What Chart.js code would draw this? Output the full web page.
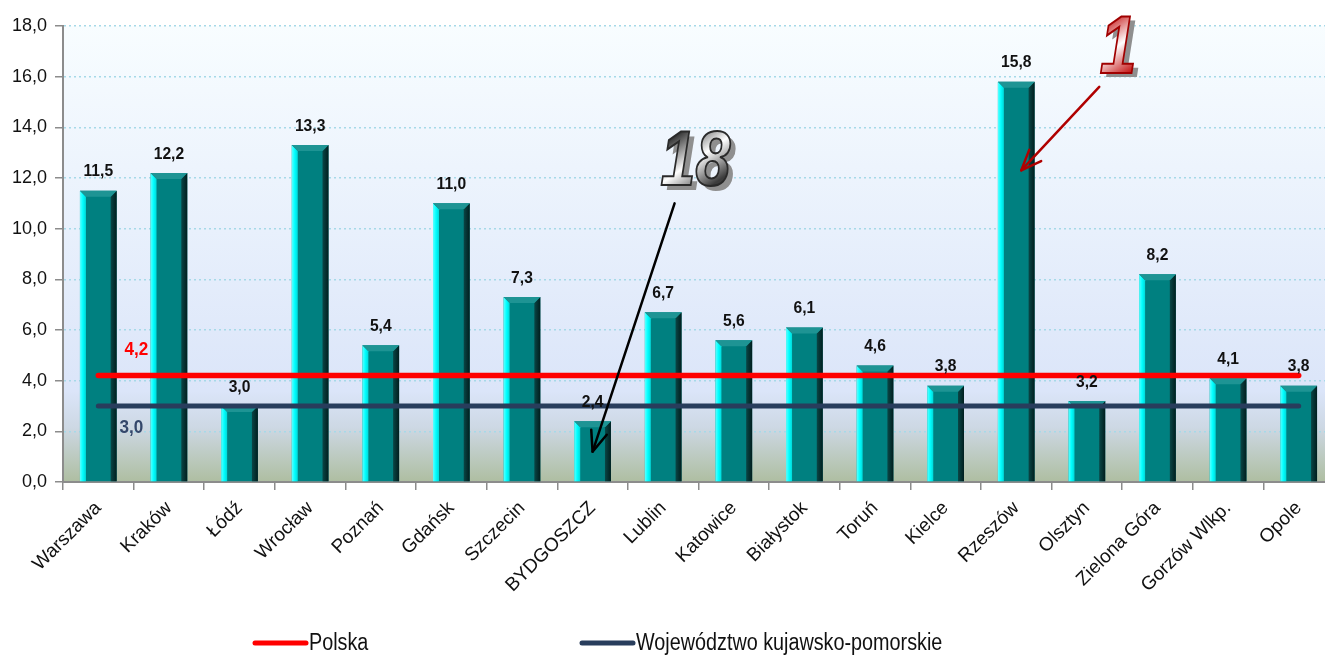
<!DOCTYPE html>
<html><head><meta charset="utf-8">
<script src="https://cdn.jsdelivr.net/npm/chart.js@4"></script>
<style>
html,body{margin:0;padding:0;background:#fff;overflow:hidden;width:1325px;height:655px}
#wrap{position:absolute;left:0;top:0;width:1334px;height:655px}
</style></head>
<body><div id="wrap"><canvas id="c" width="1334" height="655"></canvas></div>
<script>
const categories = ['Warszawa','Kraków','Łódź','Wrocław','Poznań','Gdańsk','Szczecin','BYDGOSZCZ','Lublin','Katowice','Białystok','Toruń','Kielce','Rzeszów','Olsztyn','Zielona Góra','Gorzów Wlkp.','Opole'];
const cityValues = [11.5,12.2,3.0,13.3,5.4,11.0,7.3,2.4,6.7,5.6,6.1,4.6,3.8,15.8,3.2,8.2,4.1,3.8];
const polskaValue = 4.2;
const kujawskoValue = 3.0;
const polskaSeries = categories.map(() => polskaValue);
const kujawskoSeries = categories.map(() => kujawskoValue);
const yTickValues = [0,2,4,6,8,10,12,14,16,18];
const seriesNames = ['Polska','Województwo kujawsko-pomorskie'];

const FONT = "'Liberation Sans', Arial, sans-serif";
const fmt = v => v.toFixed(1).replace('.', ',');

// draw text horizontally condensed (to mimic a narrow face)
function narrowText(ctx, text, x, y, sx) {
  ctx.save();
  ctx.translate(x, y);
  ctx.scale(sx, 1);
  ctx.fillText(text, 0, 0);
  ctx.restore();
}

const bgPlugin = {
  id: 'bg',
  beforeDraw(chart) {
    const {ctx, chartArea: a} = chart;
    const g = ctx.createLinearGradient(0, a.top, 0, a.bottom);
    g.addColorStop(0, '#f8fdff');
    g.addColorStop(0.45, '#e8f0fc');
    g.addColorStop(0.80, '#dbe5f9');
    g.addColorStop(0.88, '#cdd8e4');
    g.addColorStop(1, '#aebea1');
    ctx.save();
    ctx.fillStyle = g;
    ctx.fillRect(a.left, a.top, a.right - a.left, a.bottom - a.top);
    ctx.restore();
  }
};

const bevelPlugin = {
  id: 'bevel',
  afterDatasetDraw(chart, args) {
    if (args.index !== 0) return;
    const ctx = chart.ctx;
    args.meta.data.forEach(el => {
      const p = el.getProps(['x','y','base','width'], true);
      const l = p.x - p.width / 2, r = p.x + p.width / 2, t = p.y, b = p.base;
      const bv = 6;
      ctx.save();
      let g = ctx.createLinearGradient(l, 0, l + bv, 0);
      g.addColorStop(0, '#5fffff'); g.addColorStop(0.5, '#00ffff'); g.addColorStop(1, '#00d8d8');
      ctx.fillStyle = g;
      ctx.beginPath(); ctx.moveTo(l, t); ctx.lineTo(l + bv, t + bv); ctx.lineTo(l + bv, b); ctx.lineTo(l, b); ctx.closePath(); ctx.fill();
      g = ctx.createLinearGradient(r - bv, 0, r, 0);
      g.addColorStop(0, '#0a4646'); g.addColorStop(1, '#001e1e');
      ctx.fillStyle = g;
      ctx.beginPath(); ctx.moveTo(r, t); ctx.lineTo(r - bv, t + bv); ctx.lineTo(r - bv, b); ctx.lineTo(r, b); ctx.closePath(); ctx.fill();
      ctx.fillStyle = '#1e9494';
      ctx.beginPath(); ctx.moveTo(l, t); ctx.lineTo(r, t); ctx.lineTo(r - bv, t + bv); ctx.lineTo(l + bv, t + bv); ctx.closePath(); ctx.fill();
      ctx.restore();
    });
  }
};

function arrow(ctx, x1, y1, x2, y2, color, w) {
  const ang = Math.atan2(y2 - y1, x2 - x1);
  const hl = 22, ha = 0.38;
  ctx.save();
  ctx.strokeStyle = color; ctx.lineWidth = w; ctx.lineCap = 'round'; ctx.lineJoin = 'round';
  ctx.beginPath(); ctx.moveTo(x1, y1); ctx.lineTo(x2, y2); ctx.stroke();
  ctx.beginPath();
  ctx.moveTo(x2 - hl * Math.cos(ang - ha), y2 - hl * Math.sin(ang - ha));
  ctx.lineTo(x2, y2);
  ctx.lineTo(x2 - hl * Math.cos(ang + ha), y2 - hl * Math.sin(ang + ha));
  ctx.stroke();
  ctx.restore();
}

function fancyText(ctx, text, cx, cy, size, c1, c2, stroke) {
  ctx.save();
  ctx.translate(cx, cy);
  ctx.scale(0.85, 1.05);
  ctx.font = `italic bold ${size}px ${FONT}`;
  ctx.textAlign = 'center'; ctx.textBaseline = 'middle';
  ctx.fillStyle = '#8f8f8f';
  ctx.fillText(text, 6, 4);
  const g = ctx.createLinearGradient(-size * 0.3, -size * 0.36, size * 0.1, size * 0.36);
  g.addColorStop(0, c1); g.addColorStop(0.5, c2); g.addColorStop(1, c1);
  ctx.fillStyle = g;
  ctx.fillText(text, 0, 0);
  ctx.lineWidth = 2; ctx.strokeStyle = stroke;
  ctx.strokeText(text, 0, 0);
  ctx.restore();
}

const labelsPlugin = {
  id: 'labels',
  afterDatasetsDraw(chart) {
    const ctx = chart.ctx;
    const xs = chart.scales.x, ys = chart.scales.y;
    const meta = chart.getDatasetMeta(0);
    ctx.save();
    ctx.font = `bold 17px ${FONT}`;
    ctx.fillStyle = '#111';
    ctx.textAlign = 'center'; ctx.textBaseline = 'middle';
    meta.data.forEach((el, i) => {
      narrowText(ctx, fmt(chart.data.datasets[0].data[i]), el.x, el.y - 19, 0.92);
    });
    const p0 = chart.getDatasetMeta(1).data[0];
    const k0 = chart.getDatasetMeta(2).data[0];
    ctx.font = `bold 19px ${FONT}`;
    ctx.fillStyle = '#ff0000';
    narrowText(ctx, fmt(polskaValue), p0.x + 38, p0.y - 26, 0.9);
    ctx.fillStyle = '#34476b';
    narrowText(ctx, fmt(kujawskoValue), k0.x + 33, k0.y + 22, 0.9);
    ctx.restore();

    const bx = xs.getPixelForValue(7);
    arrow(ctx, bx + 82, ys.getPixelForValue(11.0), bx, ys.getPixelForValue(1.2), '#000', 2.5);
    fancyText(ctx, '18', bx + 103, ys.getPixelForValue(12.55), 74, '#3c3c3c', '#ffffff', '#2a2a2a');
    const rx = xs.getPixelForValue(13);
    arrow(ctx, rx + 83, ys.getPixelForValue(15.6), rx + 5, ys.getPixelForValue(12.3), '#b00000', 2.5);
    fancyText(ctx, '1', rx + 102, ys.getPixelForValue(17.05), 78, '#c00000', '#ffffff', '#a00000');
  }
};

const legendPlugin = {
  id: 'customLegend',
  afterDraw(chart) {
    const ctx = chart.ctx;
    const y = 643;
    const starts = [253, 580];
    ctx.save();
    ctx.font = `23px ${FONT}`;
    ctx.textBaseline = 'middle'; ctx.textAlign = 'left';
    [1, 2].forEach((di, k) => {
      const ds = chart.data.datasets[di];
      ctx.strokeStyle = ds.borderColor; ctx.lineWidth = 5; ctx.lineCap = 'round';
      ctx.beginPath(); ctx.moveTo(starts[k] + 2, y); ctx.lineTo(starts[k] + 53, y); ctx.stroke();
      ctx.fillStyle = '#111';
      narrowText(ctx, ds.label, starts[k] + 56, y + 1, 0.86);
    });
    ctx.restore();
  }
};

new Chart(document.getElementById('c'), {
  type: 'bar',
  data: {
    labels: categories,
    datasets: [
      {type: 'bar', label: 'Miasta', data: cityValues, backgroundColor: '#008080', borderWidth: 0,
       barPercentage: 0.52, categoryPercentage: 1, order: 3},
      {type: 'line', label: seriesNames[0], data: polskaSeries, borderColor: '#ff0000', borderWidth: 5.5,
       pointRadius: 0, borderCapStyle: 'round', fill: false, order: 1},
      {type: 'line', label: seriesNames[1], data: kujawskoSeries, borderColor: '#283d5c', borderWidth: 5,
       pointRadius: 0, borderCapStyle: 'round', fill: false, order: 2}
    ]
  },
  options: {
    responsive: false,
    animation: false,
    layout: {padding: {top: 26, right: 0, left: 0, bottom: 0}},
    plugins: {legend: {display: false}, tooltip: {enabled: false}},
    scales: {
      x: {
        offset: true,
        grid: {display: true, drawOnChartArea: false, offset: true, tickLength: 8, color: '#8c8c8c', lineWidth: 1.5},
        border: {color: '#8c8c8c', width: 2},
        ticks: {autoSkip: false, minRotation: 45, maxRotation: 45, color: '#111', padding: 7,
                font: {family: FONT, size: 19}},
        afterFit: s => { s.height = 173; }
      },
      y: {
        min: 0, max: 18,
        afterBuildTicks: s => { s.ticks = yTickValues.map(v => ({value: v})); },
        grid: {color: '#a6d9e8', lineWidth: 1.5, tickColor: '#8c8c8c', tickLength: 8, tickWidth: 1.5, tickBorderDash: [1, 0]},
        border: {color: '#8c8c8c', width: 2, dash: [2, 3]},
        ticks: {color: '#111', padding: 8, font: {family: FONT, size: 18}, callback: v => fmt(v)},
        afterFit: s => { s.width = 63; }
      }
    }
  },
  plugins: [bgPlugin, bevelPlugin, labelsPlugin, legendPlugin]
});
</script>
</body></html>
